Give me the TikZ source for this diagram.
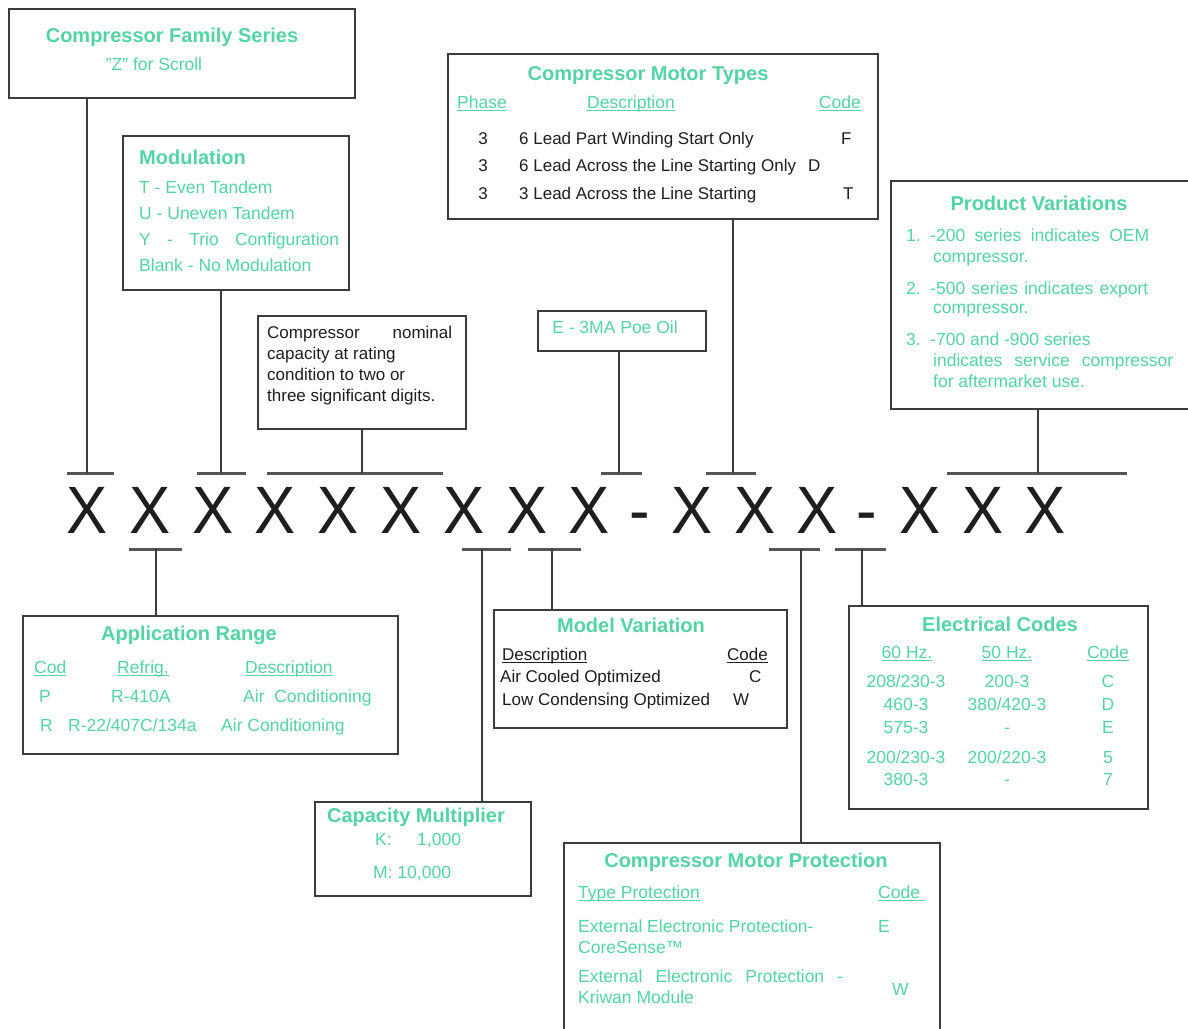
\documentclass[tikz,border=0pt]{standalone}
\usepackage{fontspec}
\setmainfont{Liberation Sans}
\definecolor{mint}{RGB}{84,212,162}
\definecolor{ink}{RGB}{30,30,30}
\definecolor{frame}{RGB}{60,60,60}
\definecolor{tickc}{RGB}{85,85,85}
\newcommand\uln[1]{\setbox0=\hbox{#1}\rlap{\rule[-3pt]{\wd0}{1.2pt}}\box0}
\newcommand\jst[2]{\makebox[#1][s]{#2}}
\begin{document}
\begin{tikzpicture}[x=1pt,y=-1pt,
 frm/.style={draw=frame,line width=2pt,inner sep=0pt,anchor=north west},
 conn/.style={draw=frame,line width=1.6pt},
 tickl/.style={draw=tickc,line width=3pt},
 ttl/.style={text=mint,font=\fontsize{20}{24}\selectfont\bfseries,inner sep=0pt,anchor=base},
 gt/.style={text=mint,font=\fontsize{17.5}{21}\selectfont,inner sep=0pt,anchor=base west},
 bt/.style={text=ink,font=\fontsize{17}{20}\selectfont,inner sep=0pt,anchor=base west},
 bigx/.style={text=ink,font=\fontsize{67}{70}\selectfont,inner sep=0pt,anchor=base}]
\path[use as bounding box,fill=white] (0,0) rectangle (1188,1028);

% ---------- boxes ----------
\node[frm,minimum width=346pt,minimum height=89pt] (fam) at (8,8) {};
\node[frm,minimum width=226pt,minimum height=154pt] (mod) at (122,135) {};
\node[frm,minimum width=208pt,minimum height=113pt] (nom) at (257,315) {};
\node[frm,minimum width=168pt,minimum height=40pt] (poe) at (537,310) {};
\node[frm,minimum width=430pt,minimum height=165pt] (mot) at (447,53) {};
\node[frm,minimum width=312pt,minimum height=228pt] (prod) at (890,180) {};
\node[frm,minimum width=375pt,minimum height=138pt] (app) at (22,615) {};
\node[frm,minimum width=293pt,minimum height=118pt] (mv) at (493,609) {};
\node[frm,minimum width=299pt,minimum height=203pt] (ele) at (848,605) {};
\node[frm,minimum width=216pt,minimum height=94pt] (cap) at (314,801) {};
\node[frm,minimum width=376pt,minimum height=200pt] (prot) at (563,842) {};

% ---------- code letters ----------
\foreach \i/\xx in {1/87,2/149.8,3/212.6,4/275.4,5/338.2,6/401,7/463.8,8/526.6,9/589.4,10/692,11/755,12/817,13/920,14/983,15/1045}
  \node[bigx] (x\i) at (\xx,533) {\scalebox{0.92}[1]{X}};
\node[bigx] (d1) at (640,533) {\scalebox{0.92}[1]{-}};
\node[bigx] (d2) at (867,533) {\scalebox{0.92}[1]{-}};

% ---------- ticks ----------
\coordinate (t1) at (87,473);  \draw[tickl] (67,473) -- (114,473);
\coordinate (t2) at (221,473); \draw[tickl] (197,473) -- (246,473);
\coordinate (t3) at (362,473); \draw[tickl] (267,473) -- (443,473);
\coordinate (t4) at (619,473); \draw[tickl] (601,473) -- (642,473);
\coordinate (t5) at (733,473); \draw[tickl] (706,473) -- (756,473);
\coordinate (t6) at (1038,473);\draw[tickl] (947,473) -- (1127,473);
\coordinate (b1) at (156,549); \draw[tickl] (129,549) -- (182,549);
\coordinate (b2) at (482,549); \draw[tickl] (462,549) -- (511,549);
\coordinate (b3) at (552,549); \draw[tickl] (528,549) -- (581,549);
\coordinate (b4) at (801,549); \draw[tickl] (769,549) -- (820,549);
\coordinate (b5) at (862,549); \draw[tickl] (835,549) -- (886,549);

% ---------- connectors ----------
\draw[conn] (fam.south -| t1) -- (t1);
\draw[conn] (mod.south -| t2) -- (t2);
\draw[conn] (nom.south -| t3) -- (t3);
\draw[conn] (poe.south -| t4) -- (t4);
\draw[conn] (mot.south -| t5) -- (t5);
\draw[conn] (prod.south -| t6) -- (t6);
\draw[conn] (b1) -- (app.north -| b1);
\draw[conn] (b2) -- (cap.north -| b2);
\draw[conn] (b3) -- (mv.north -| b3);
\draw[conn] (b4) -- (prot.north -| b4);
\draw[conn] (b5) -- (ele.north -| b5);

% ---------- Compressor Family Series ----------
\node[ttl] (famT) at (172,42) {Compressor Family Series};
\node[gt,anchor=base] (famA) at (154,70) {"Z" for Scroll};

% ---------- Modulation ----------
\node[ttl,anchor=base west] (modT) at (139,164) {Modulation};
\node[gt] (modA) at (139,193) {T - Even Tandem};
\node[gt] (modB) at (139,219) {U - Uneven Tandem};
\node[gt] (modC) at (139,245) {\jst{200pt}{Y - Trio Configuration}};
\node[gt] (modD) at (139,271) {Blank - No Modulation};

% ---------- nominal capacity ----------
\node[bt] (nomA) at (267,338) {\jst{185pt}{Compressor nominal}};
\node[bt] (nomB) at (267,359) {capacity at rating};
\node[bt] (nomC) at (267,380) {condition to two or};
\node[bt] (nomD) at (267,401) {three significant digits.};

% ---------- Poe oil ----------
\node[gt,anchor=base] (poeA) at (615,333) {E - 3MA Poe Oil};

% ---------- Motor types ----------
\node[ttl] (motT) at (648,80) {Compressor Motor Types};
\node[gt] (motH1) at (457,108) {\uln{Phase}};
\node[gt,anchor=base] (motH2) at (631,108) {\uln{Description}};
\node[gt,anchor=base east] (motH3) at (861,108) {\uln{Code}};
\node[bt,anchor=base] (motP1) at (483,144) {3};
\node[bt,anchor=base] (motP2) at (483,171) {3};
\node[bt,anchor=base] (motP3) at (483,199) {3};
\node[bt] (motD1) at (519,144) {6 Lead Part Winding Start Only};
\node[bt] (motD2) at (519,171) {6 Lead Across the Line Starting Only};
\node[bt] (motD3) at (519,199) {3 Lead Across the Line Starting};
\node[bt] (motC1) at (841,144) {F};
\node[bt] (motC2) at (808,171) {D};
\node[bt] (motC3) at (843,199) {T};

% ---------- Product variations ----------
\node[ttl] (prodT) at (1039,210) {Product Variations};
\node[gt] (prodN1) at (906,241) {1.};
\node[gt] (prodN2) at (906,294) {2.};
\node[gt] (prodN3) at (906,345) {3.};
\node[gt] (prodA1) at (930,241) {\jst{219pt}{-200 series indicates OEM}};
\node[gt] (prodA2) at (933,262) {compressor.};
\node[gt] (prodB1) at (930,294) {\jst{218pt}{-500 series indicates export}};
\node[gt] (prodB2) at (933,313) {compressor.};
\node[gt] (prodC1) at (930,345) {-700 and -900 series};
\node[gt] (prodC2) at (933,366) {\jst{240pt}{indicates service compressor}};
\node[gt] (prodC3) at (933,387) {for aftermarket use.};

% ---------- Application range ----------
\node[ttl] (appT) at (189,640) {Application Range};
\node[gt] (appH1) at (34,673) {\uln{Cod}};
\node[gt] (appH2) at (117,673) {\uln{Refrig.}};
\node[gt] (appH3) at (245,673) {\uln{Description}};
\node[gt] (appA1) at (39,702) {P};
\node[gt] (appA2) at (111,702) {R-410A};
\node[gt] (appA3) at (243,702) {Air\ \ Conditioning};
\node[gt] (appB1) at (40,731) {R};
\node[gt] (appB2) at (68,731) {R-22/407C/134a};
\node[gt] (appB3) at (221,731) {Air Conditioning};

% ---------- Model variation ----------
\node[ttl] (mvT) at (631,632) {Model Variation};
\node[bt] (mvH1) at (502,660) {\uln{Description}};
\node[bt,anchor=base east] (mvH2) at (768,660) {\uln{Code}};
\node[bt] (mvA1) at (500,682) {Air Cooled Optimized};
\node[bt] (mvA2) at (749,682) {C};
\node[bt] (mvB1) at (502,705) {Low Condensing Optimized};
\node[bt] (mvB2) at (733,705) {W};

% ---------- Electrical codes ----------
\node[ttl] (eleT) at (1000,631) {Electrical Codes};
\node[gt,anchor=base] (eleH1) at (907,658) {\uln{60 Hz.}};
\node[gt,anchor=base] (eleH2) at (1007,658) {\uln{50 Hz.}};
\node[gt,anchor=base] (eleH3) at (1108,658) {\uln{Code}};
\node[gt,anchor=base] (eleA1) at (906,687) {208/230-3};
\node[gt,anchor=base] (eleA2) at (1007,687) {200-3};
\node[gt,anchor=base] (eleA3) at (1108,687) {C};
\node[gt,anchor=base] (eleB1) at (906,710) {460-3};
\node[gt,anchor=base] (eleB2) at (1007,710) {380/420-3};
\node[gt,anchor=base] (eleB3) at (1108,710) {D};
\node[gt,anchor=base] (eleC1) at (906,733) {575-3};
\node[gt,anchor=base] (eleC2) at (1007,733) {-};
\node[gt,anchor=base] (eleC3) at (1108,733) {E};
\node[gt,anchor=base] (eleD1) at (906,763) {200/230-3};
\node[gt,anchor=base] (eleD2) at (1007,763) {200/220-3};
\node[gt,anchor=base] (eleD3) at (1108,763) {5};
\node[gt,anchor=base] (eleE1) at (906,785) {380-3};
\node[gt,anchor=base] (eleE2) at (1007,785) {-};
\node[gt,anchor=base] (eleE3) at (1108,785) {7};

% ---------- Capacity multiplier ----------
\node[ttl] (capT) at (416,822) {Capacity Multiplier};
\node[gt] (capK) at (375,845) {K:};
\node[gt] (capKv) at (417,845) {1,000};
\node[gt] (capM) at (373,878) {M: 10,000};

% ---------- Motor protection ----------
\node[ttl] (protT) at (746,867) {Compressor Motor Protection};
\node[gt] (protH1) at (578,898) {\uln{Type Protection}};
\node[gt] (protH2) at (878,898) {\uln{Code\ }};
\node[gt] (protA1) at (578,932) {External Electronic Protection-};
\node[gt] (protA2) at (578,953) {CoreSense™};
\node[gt] (protA3) at (878,932) {E};
\node[gt] (protB1) at (578,982) {\jst{265pt}{External Electronic Protection -}};
\node[gt] (protB2) at (578,1003) {Kriwan Module};
\node[gt] (protB3) at (892,995) {W};
\end{tikzpicture}
\end{document}
